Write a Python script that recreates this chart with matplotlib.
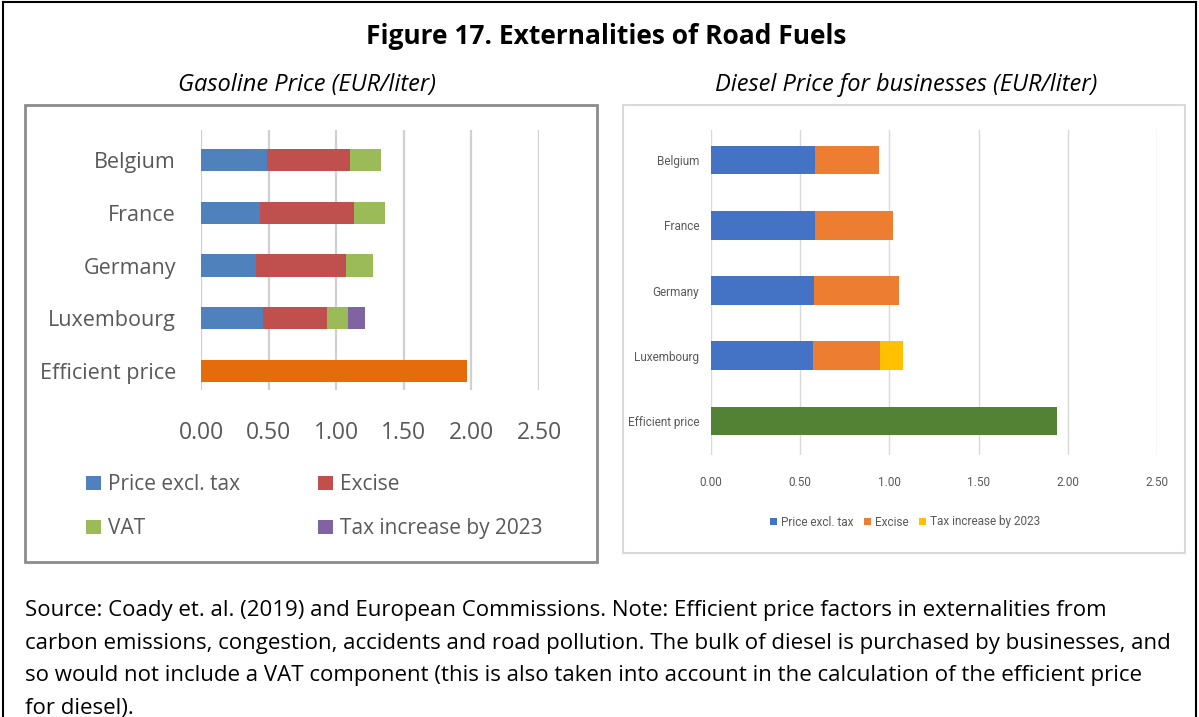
import matplotlib.pyplot as plt
from matplotlib.patches import Rectangle
from matplotlib.lines import Line2D
from matplotlib import font_manager
import numpy as np

W, H = 1199, 717

# data (EUR/liter)
countries = ['Belgium', 'France', 'Germany', 'Luxembourg', 'Efficient price']
gas_price = [0.49, 0.44, 0.41, 0.46, 0]
gas_excise = [0.61, 0.69, 0.66, 0.47, 0]
gas_vat = [0.23, 0.23, 0.20, 0.16, 0]
gas_increase = [0, 0, 0, 0.12, 0]
gas_efficient = [0, 0, 0, 0, 1.97]

dsl_price = [0.585, 0.585, 0.58, 0.57, 0]
dsl_excise = [0.355, 0.435, 0.475, 0.375, 0]
dsl_increase = [0, 0, 0, 0.13, 0]
dsl_efficient = [0, 0, 0, 0, 1.94]

xticks = [0, 0.5, 1.0, 1.5, 2.0, 2.5]

title = 'Figure 17. Externalities of Road Fuels'
sub_left = 'Gasoline Price (EUR/liter)'
sub_right = 'Diesel Price for businesses (EUR/liter)'
note = ('Source: Coady et. al. (2019) and European Commissions. Note: Efficient price factors in externalities from\n'
        'carbon emissions, congestion, accidents and road pollution. The bulk of diesel is purchased by businesses, and\n'
        'so would not include a VAT component (this is also taken into account in the calculation of the efficient price\n'
        'for diesel).')

#*********************************************************************************
installed = set(f.name for f in font_manager.fontManager.ttflist)
main_font = ['Open Sans', 'DejaVu Sans']
narrow = 'Liberation Sans Narrow' if 'Liberation Sans Narrow' in installed else 'Roboto'
narrow_font = [narrow, 'DejaVu Sans']
grey = '#595959'


def px_axes(x0, y0, x1, y1):
    return fig.add_axes([x0 / W, 1 - y1 / H, (x1 - x0) / W, (y1 - y0) / H])


def fx(x):
    return x / W


def fy(y):
    return 1 - y / H


fig = plt.figure(figsize=(W / 100, H / 100), dpi=100)

# outer frame and panel boxes
fig.add_artist(Line2D([fx(3), fx(3)], [fy(2), 0], color='k', lw=1.5))
fig.add_artist(Line2D([fx(1196), fx(1196)], [fy(2), 0], color='k', lw=1.5))
fig.add_artist(Line2D([fx(3), fx(1196)], [fy(2), fy(2)], color='k', lw=1.5))
fig.add_artist(Rectangle((fx(25), fy(562)), fx(597 - 25), (562 - 105) / H, fill=False, ec='#8c8c8c', lw=2))
fig.add_artist(Rectangle((fx(623), fy(553)), fx(1185 - 623), (553 - 105) / H, fill=False, ec='#d9d9d9', lw=1.5))

fig.text(fx(606), fy(37), title, ha='center', va='center', fontsize=19, fontweight='bold', family=main_font)
fig.text(fx(307), fy(85), sub_left, ha='center', va='center', fontsize=17, style='italic', family=main_font)
fig.text(fx(906), fy(85), sub_right, ha='center', va='center', fontsize=17, style='italic', family=main_font)
fig.text(fx(25), fy(600), note, ha='left', va='top', fontsize=16, family=main_font, linespacing=1.72)

y = np.arange(len(countries))

#*********************************************************************************
# Gasoline
ax1 = px_axes(201, 130, 539, 390)
left = np.zeros(len(countries))
series = [(gas_price, 'Price excl. tax', '#4f81bd'), (gas_excise, 'Excise', '#c0504d'),
          (gas_vat, 'VAT', '#9bbb59'), (gas_increase, 'Tax increase by 2023', '#8064a2'),
          (gas_efficient, '_nolegend_', '#e46c0a')]
h1 = {}
for vals, lab, col in series:
    b = ax1.barh(y, vals, left=left, height=0.42, color=col, label=lab, zorder=3)
    h1[lab] = b
    left = left + np.array(vals)
ax1.set_xlim(0, 2.5)
ax1.set_ylim(4.36, -0.57)
ax1.set_yticks(y)
ax1.set_yticklabels(countries, fontsize=15.5, color=grey, family=main_font)
ax1.set_xticks(xticks)
ax1.set_xticklabels(['%.2f' % t for t in xticks], fontsize=16.5, color=grey, family=main_font)
ax1.tick_params(axis='y', length=0, pad=18)
ax1.tick_params(axis='x', length=0, pad=22)
ax1.grid(axis='x', color='#d0d0d0', lw=1.6, zorder=0)
for s in ax1.spines.values():
    s.set_visible(False)
fig.legend([h1['Price excl. tax'], h1['VAT'], h1['Excise'], h1['Tax increase by 2023']],
           ['Price excl. tax', 'VAT', 'Excise', 'Tax increase by 2023'],
           ncol=2, loc='upper left', bbox_to_anchor=(fx(76), fy(464)), frameon=False, borderpad=0,
           prop={'family': main_font, 'size': 15}, labelcolor=grey, handlelength=0.7, handleheight=0.7,
           handletextpad=0.35, columnspacing=3.75, labelspacing=1.1)

#*********************************************************************************
# Diesel
ax2 = px_axes(711, 130, 1157, 455)
left = np.zeros(len(countries))
series = [(dsl_price, 'Price excl. tax', '#4472c4'), (dsl_excise, 'Excise', '#ed7d31'),
          (dsl_increase, 'Tax increase by 2023', '#ffc000'), (dsl_efficient, '_nolegend_', '#548235')]
h2 = []
for vals, lab, col in series:
    b = ax2.barh(y, vals, left=left, height=0.44, color=col, label=lab, zorder=3)
    if lab != '_nolegend_':
        h2.append(b)
    left = left + np.array(vals)
ax2.set_xlim(0, 2.5)
ax2.set_ylim(4.52, -0.46)
ax2.set_yticks(y)
ax2.set_yticklabels(countries, fontsize=8.5, color=grey, family=narrow_font)
ax2.set_xticks(xticks)
ax2.set_xticklabels(['%.2f' % t for t in xticks], fontsize=8.5, color=grey, family=narrow_font)
ax2.tick_params(axis='y', length=0, pad=8.5)
ax2.tick_params(axis='x', length=0, pad=15)
ax2.grid(axis='x', color='#d9d9d9', lw=1.0, zorder=0)
for s in ax2.spines.values():
    s.set_visible(False)
fig.legend(h2, ['Price excl. tax', 'Excise', 'Tax increase by 2023'], ncol=3, loc='center',
           bbox_to_anchor=(fx(905), fy(522)), frameon=False, borderpad=0,
           prop={'family': narrow_font, 'size': 8.5}, labelcolor=grey, handlelength=0.6, handleheight=0.6,
           handletextpad=0.3, columnspacing=0.9)

plt.savefig('out.png', dpi=100)
plt.close()
